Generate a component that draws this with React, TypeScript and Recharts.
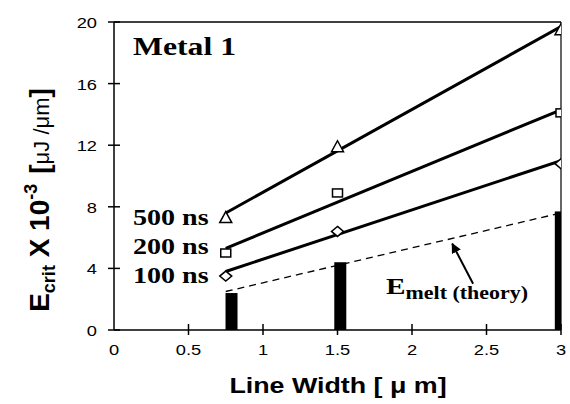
import { ComposedChart, Line, Scatter, Bar, XAxis, YAxis, ReferenceLine } from 'recharts';

// line width (um) where the pulses were measured
const widths = [0.75, 1.5, 3];
const pulseLabels = ['500 ns', '200 ns', '100 ns'];
const e500 = [7.3, 11.9, 19.5];
const e200 = [5.0, 8.9, 14.1];
const e100 = [3.5, 6.4, 10.8];

// fitted lines (end points)
const fitX = [0.75, 3];
const fit500 = [7.6, 19.7];
const fit200 = [5.3, 14.3];
const fit100 = [3.8, 11.0];
const meltTheory = [2.5, 7.6];

// measured melt bars
const barX = [0.79, 1.52, 3.0];
const barVal = [2.4, 4.4, 7.7];

// arrow pointing at the theory line
const arrowX = [2.41, 2.27];
const arrowY = [3.0, 5.6];

const xTicks = [0, 0.5, 1, 1.5, 2, 2.5, 3];
const yTicks = [0, 4, 8, 12, 16, 20];

const toPts = (xs: number[], ys: number[]) => xs.map((x, i) => ({ x, y: ys[i] }));
const barData = barX.map((x, i) => ({ x, h: barVal[i] }));

const SX = 1.22;

const Triangle = ({ cx, cy }: any) => (
    <path d={`M${cx},${cy - 6} L${cx + 6},${cy + 5} L${cx - 6},${cy + 5} Z`} fill="#fff" stroke="#000" strokeWidth={1.5} />
);
const Square = ({ cx, cy }: any) => (
    <rect x={cx - 5} y={cy - 4} width={10} height={8} fill="#fff" stroke="#000" strokeWidth={1.5} />
);
const Diamond = ({ cx, cy }: any) => (
    <path d={`M${cx},${cy - 5} L${cx + 6},${cy} L${cx},${cy + 5} L${cx - 6},${cy} Z`} fill="#fff" stroke="#000" strokeWidth={1.5} />
);

// thick block centred on the bar's x position, running a little below the axis
const Block = ({ x, y, width, height }: any) => (
    <rect x={x + width / 2 - 6} y={y} width={12} height={height + 4} fill="#000" />
);

const XTick = ({ x, y, payload }: any) => (
    <g>
        {payload.value !== 0 && <line x1={x} x2={x} y1={y - 6} y2={y + 5} stroke="#000" strokeWidth={1.5} />}
        <text transform={`translate(${x},${y + 25}) scale(${SX},1)`} textAnchor="middle"
            fontFamily="Arial, 'Liberation Sans'" fontSize={15} fill="#000">{payload.value}</text>
    </g>
);

const YTick = ({ x, y, payload }: any) => (
    <g>
        <line x1={x - 6} x2={x + 6} y1={y} y2={y} stroke="#000" strokeWidth={1.5} />
        <text transform={`translate(${x - 17},${y + 6}) scale(${SX},1)`} textAnchor="end"
            fontFamily="Arial, 'Liberation Sans'" fontSize={15} fill="#000">{payload.value}</text>
    </g>
);

const serif = "'Times New Roman', 'Liberation Serif', serif";
const sans = "Arial, 'Liberation Sans', sans-serif";

export default function App() {
    return (
        <div style={{ position: 'absolute', left: 0, top: 0, width: 570, height: 404, background: '#fff' }}>
            <svg width={0} height={0} style={{ position: 'absolute' }}>
                <defs>
                    <marker id="arrowHead" viewBox="0 0 10 10" refX="9" refY="5" markerWidth="5" markerHeight="5" orient="auto">
                        <path d="M0,0 L10,5 L0,10 Z" fill="#000" />
                    </marker>
                </defs>
            </svg>
            <ComposedChart width={570} height={404} data={barData} margin={{ top: 22, right: 9, bottom: 44, left: 74 }}>
                <XAxis type="number" dataKey="x" domain={[0, 3]} ticks={xTicks} tick={<XTick />}
                    tickLine={false} tickSize={0} tickMargin={0} height={30}
                    axisLine={{ stroke: '#000', strokeWidth: 1.5 }} allowDataOverflow />
                <YAxis type="number" domain={[0, 20]} ticks={yTicks} tick={<YTick />}
                    tickLine={false} tickSize={0} tickMargin={0} width={40}
                    axisLine={{ stroke: '#000', strokeWidth: 1.5 }} allowDataOverflow />
                <ReferenceLine y={20} stroke="#000" strokeWidth={1.5} />
                <ReferenceLine x={3} stroke="#000" strokeWidth={1.2} />
                <Bar dataKey="h" fill="#000" shape={<Block />} isAnimationActive={false} />
                <Line data={toPts(fitX, meltTheory)} dataKey="y" type="linear" stroke="#000" strokeWidth={1.3}
                    strokeDasharray="7 5" dot={false} isAnimationActive={false} />
                <Line data={toPts(fitX, fit500)} dataKey="y" type="linear" stroke="#000" strokeWidth={3} dot={false} isAnimationActive={false} />
                <Line data={toPts(fitX, fit200)} dataKey="y" type="linear" stroke="#000" strokeWidth={3} dot={false} isAnimationActive={false} />
                <Line data={toPts(fitX, fit100)} dataKey="y" type="linear" stroke="#000" strokeWidth={3} dot={false} isAnimationActive={false} />
                <Line data={toPts(arrowX, arrowY)} dataKey="y" type="linear" stroke="#000" strokeWidth={2}
                    dot={false} markerEnd="url(#arrowHead)" isAnimationActive={false} />
                <Scatter data={toPts(widths, e500)} dataKey="y" shape={<Triangle />} isAnimationActive={false} />
                <Scatter data={toPts(widths, e200)} dataKey="y" shape={<Square />} isAnimationActive={false} />
                <Scatter data={toPts(widths, e100)} dataKey="y" shape={<Diamond />} isAnimationActive={false} />
            </ComposedChart>
            <svg width={570} height={404} style={{ position: 'absolute', left: 0, top: 0, pointerEvents: 'none' }}>
                <text transform={`translate(133,55) scale(${SX},1)`} fontFamily={serif} fontWeight="bold" fontSize={26}>Metal 1</text>
                {pulseLabels.map((t, i) => (
                    <text key={t} transform={`translate(133,${225 + i * 29}) scale(${SX},1)`} fontFamily={serif}
                        fontWeight="bold" fontSize={23}>{t}</text>
                ))}
                <text transform={`translate(386,294) scale(${SX},1)`} fontFamily={serif} fontWeight="bold">
                    <tspan fontSize={24}>E</tspan>
                    <tspan fontSize={18} dy={5}>melt (theory)</tspan>
                </text>
                <text transform={`translate(338,393) scale(${SX},1)`} textAnchor="middle" fontFamily={sans}
                    fontWeight="bold" fontSize={22}>Line Width [ μ m]</text>
                <text transform="translate(49,200) rotate(-90)" textAnchor="middle" fontFamily={sans} fontWeight="bold">
                    <tspan fontSize={28}>E</tspan>
                    <tspan fontSize={18} dy={6}>crit</tspan>
                    <tspan fontSize={28} dy={-6}> X 10</tspan>
                    <tspan fontSize={18} dy={-12}>-3</tspan>
                    <tspan fontSize={28} dy={12} dx={10}>[</tspan>
                    <tspan fontSize={22} fontWeight="normal">μJ /μm</tspan>
                    <tspan fontSize={28}>]</tspan>
                </text>
            </svg>
        </div>
    );
}
